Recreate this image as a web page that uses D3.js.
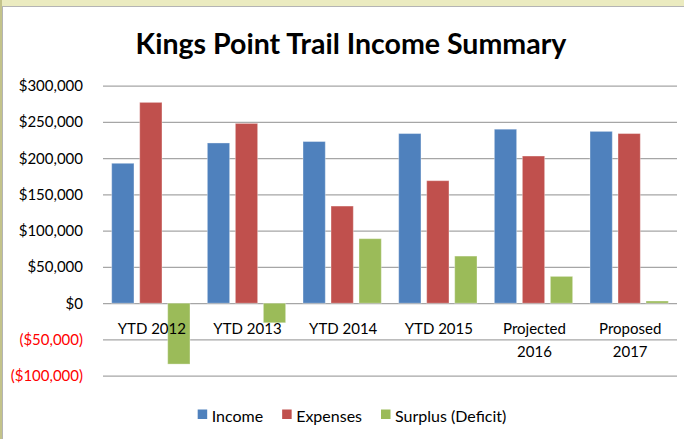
<!DOCTYPE html>
<html>
<head>
<meta charset="utf-8">
<script src="https://cdn.jsdelivr.net/npm/d3@7"></script>
<style>
  html, body { margin: 0; padding: 0; background: #fff; }
  svg { display: block; font-family: Lato, "Open Sans", sans-serif; }
</style>
</head>
<body>
<div id="chart"></div>
<script>
// data
const categories = [["YTD 2012"], ["YTD 2013"], ["YTD 2014"], ["YTD 2015"], ["Projected", "2016"], ["Proposed", "2017"]]
const income = [193000, 221000, 223000, 234000, 240000, 237000]
const expenses = [277000, 248000, 134000, 169000, 203000, 234000]
const surplus = [-84000, -27000, 89000, 65000, 37000, 3000]
const seriesNames = ["Income", "Expenses", "Surplus (Deficit)"]
const seriesColors = ["#4f81bd", "#c0504d", "#9bbb59"]
const yTicks = [-100000, -50000, 0, 50000, 100000, 150000, 200000, 250000, 300000]

const W = 684, H = 439
const margin = { top: 85.7, right: 7, bottom: 63.3, left: 103 }

const svg = d3.select("#chart").append("svg")
  .attr("width", W)
  .attr("height", H)

// frame: yellow band on top, olive strip on the left
svg.append("rect").attr("x", 0).attr("y", 0).attr("width", W).attr("height", 6).attr("fill", "#ebebc0")
svg.append("rect").attr("x", 0).attr("y", 6).attr("width", W).attr("height", 1).attr("fill", "#b4b4b4")
svg.append("rect").attr("x", 0).attr("y", 0).attr("width", 2).attr("height", H).attr("fill", "#c3c38a")
svg.append("rect").attr("x", 2).attr("y", 6).attr("width", 1).attr("height", H).attr("fill", "#b4b4b4")

const x0 = d3.scaleBand()
  .domain(d3.range(categories.length))
  .range([margin.left, W - margin.right])

const x1 = d3.scaleBand()
  .domain(d3.range(seriesNames.length))
  .range([0, x0.bandwidth()])
  .paddingInner(0.204)
  .paddingOuter(0.31)

const y = d3.scaleLinear()
  .domain([-100000, 300000])
  .range([H - margin.bottom, margin.top])

// gridlines + tick labels
const fmt = d3.format(",")
const yAxis = d3.axisLeft(y)
  .tickValues(yTicks)
  .tickSize(-(W - margin.right - margin.left))
  .tickFormat(d => d < 0 ? "($" + fmt(-d) + ")" : "$" + fmt(d))

const yg = svg.append("g")
  .attr("transform", "translate(" + margin.left + ",0)")
  .call(yAxis)
yg.select(".domain").remove()
yg.selectAll(".tick line").attr("stroke", "#a6a6a6").attr("stroke-width", 1.2)
yg.selectAll(".tick text")
  .attr("font-size", "15px")
  .attr("font-family", "Lato, sans-serif")
  .attr("x", -20)
  .attr("fill", d => d < 0 ? "#ff0000" : "#000")

// bars
const seriesData = [income, expenses, surplus]
const groups = svg.selectAll("g.cat")
  .data(categories.map((c, i) => i))
  .enter().append("g")
  .attr("class", "cat")
  .attr("transform", i => "translate(" + x0(i) + ",0)")

groups.selectAll("rect")
  .data(i => seriesData.map((s, k) => ({ k: k, v: s[i] })))
  .enter().append("rect")
  .attr("x", d => x1(d.k))
  .attr("width", x1.bandwidth())
  .attr("y", d => y(Math.max(0, d.v)))
  .attr("height", d => Math.abs(y(d.v) - y(0)))
  .attr("fill", d => seriesColors[d.k])
  .attr("stroke", "rgba(255,255,255,0.35)")
  .attr("stroke-width", 1)

// category labels
const catLabels = svg.selectAll("text.cat")
  .data(categories)
  .enter().append("text")
  .attr("class", "cat")
  .attr("text-anchor", "middle")
  .attr("font-size", "15px")
  .attr("x", (c, i) => x0(i) + x0.bandwidth() / 2 + 1)
  .attr("y", 334)

catLabels.selectAll("tspan")
  .data(c => c)
  .enter().append("tspan")
  .attr("x", function () { return d3.select(this.parentNode).attr("x") })
  .attr("dy", (t, j) => j === 0 ? 0 : 23)
  .text(t => t)

// title, sized to match the original width
const title = svg.append("text")
  .attr("x", 351)
  .attr("y", 54)
  .attr("text-anchor", "middle")
  .attr("font-weight", "bold")
  .attr("font-size", "28px")
  .text("Kings Point Trail Income Summary")
const tw = title.node().getComputedTextLength()
title.attr("font-size", (28 * 431 / tw) + "px")

// legend
const legend = svg.append("g")
const items = legend.selectAll("g")
  .data(seriesNames)
  .enter().append("g")
items.append("rect")
  .attr("width", 9.5)
  .attr("height", 9.5)
  .attr("y", 409.5)
  .attr("fill", (d, i) => seriesColors[i])
items.append("text")
  .attr("x", 14)
  .attr("y", 421.5)
  .attr("font-size", "16px")
  .text(d => d)

let lx = 0
items.each(function () {
  d3.select(this).attr("transform", "translate(" + lx + ",0)")
  lx += 14 + d3.select(this).select("text").node().getComputedTextLength() + 19
})
lx -= 19
legend.attr("transform", "translate(" + (352 - lx / 2) + ",0)")
</script>
</body>
</html>
